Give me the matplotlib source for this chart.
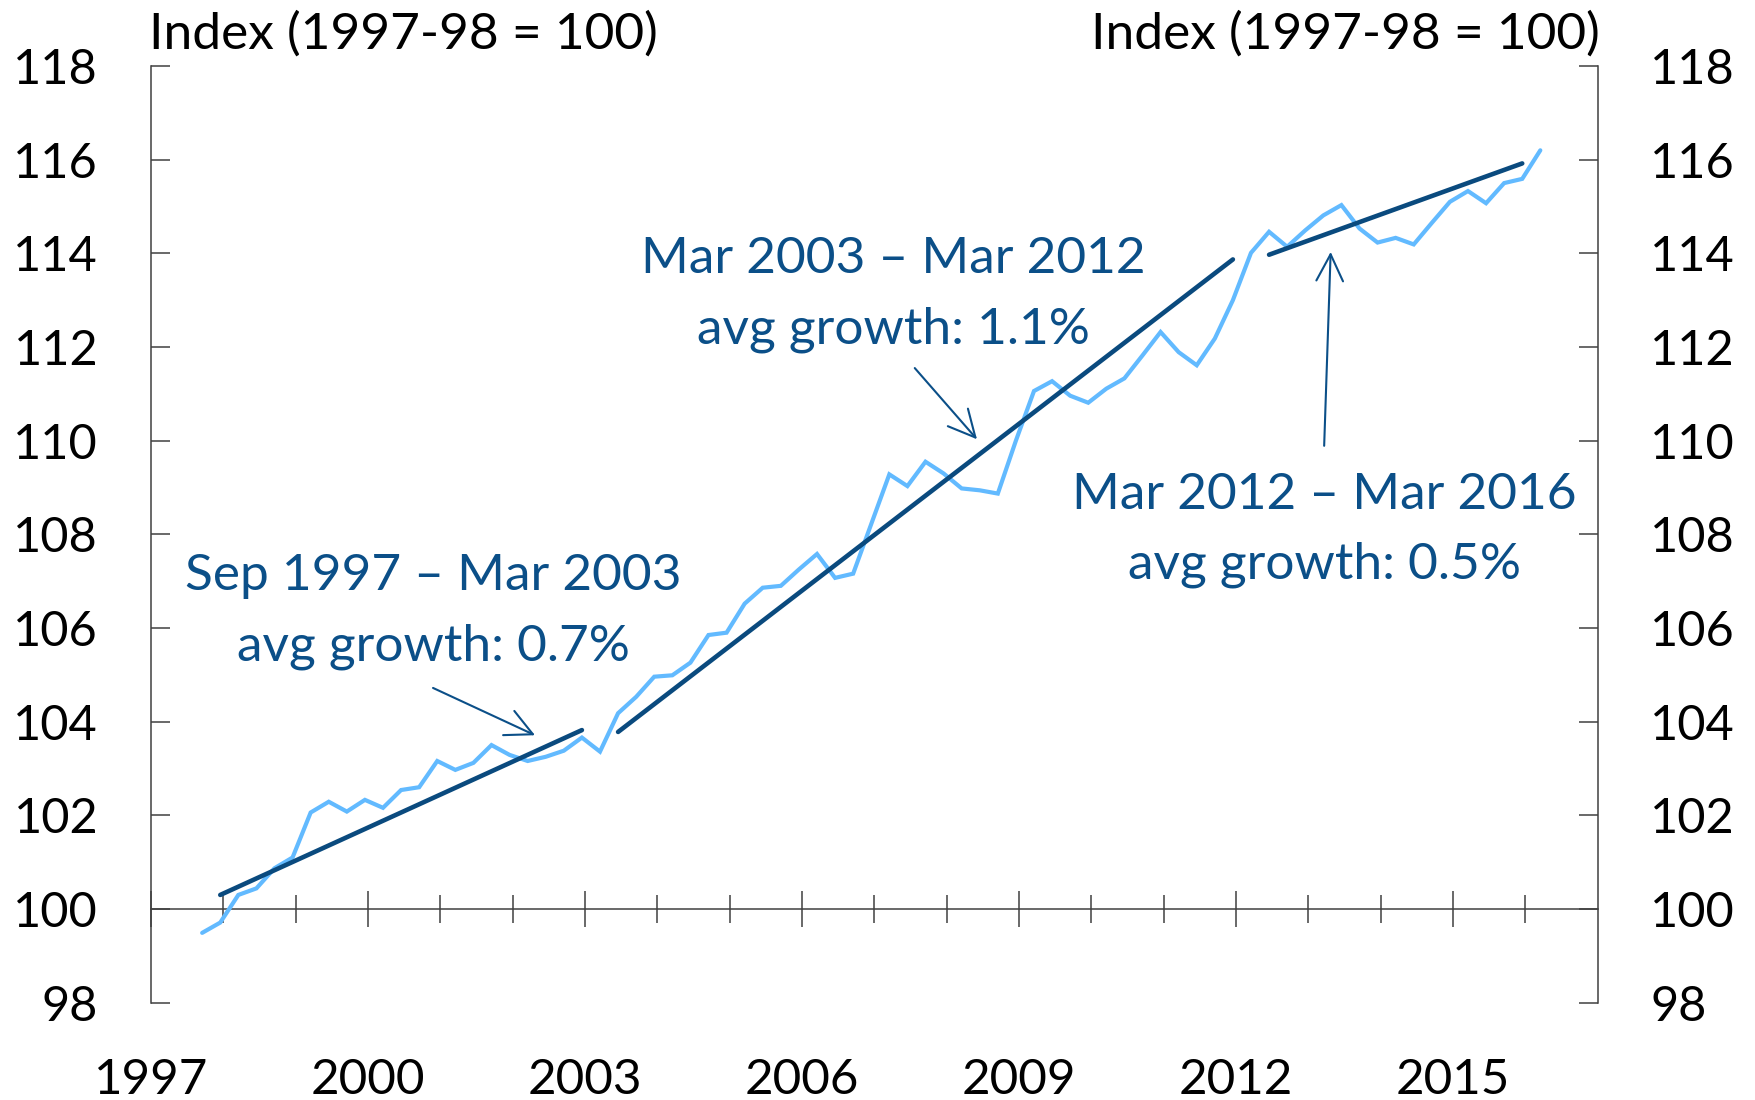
import matplotlib
matplotlib.use("Agg")
import matplotlib.pyplot as plt
from matplotlib.ticker import FixedLocator
import pandas as pd

# quarterly index, Sep 1997 .. Mar 2016
quarters = pd.period_range("1997Q3", "2016Q1", freq="Q")
index_values = [
    99.49, 99.71, 100.30, 100.44, 100.87, 101.10, 102.06, 102.29, 102.08, 102.33,
    102.16, 102.54, 102.60, 103.16, 102.97, 103.12, 103.50, 103.29, 103.16, 103.25,
    103.38, 103.66, 103.36, 104.18, 104.53, 104.96, 104.99, 105.26, 105.85, 105.90,
    106.52, 106.86, 106.90, 107.25, 107.58, 107.07, 107.16, 108.22, 109.28, 109.03,
    109.55, 109.30, 108.98, 108.94, 108.87, 110.00, 111.06, 111.27, 110.96, 110.81,
    111.11, 111.33, 111.82, 112.32, 111.89, 111.61, 112.18, 113.00, 114.01, 114.46,
    114.14, 114.49, 114.81, 115.03, 114.53, 114.23, 114.33, 114.19, 114.65, 115.10,
    115.33, 115.07, 115.50, 115.59, 116.20,
]

# average growth trend segments (start, end)
trend_periods = [("1997Q4", "2002Q4"), ("2003Q2", "2011Q4"), ("2012Q2", "2015Q4")]
trend_values = [(100.30, 103.82), (103.78, 113.87), (113.97, 115.92)]

y_ticks = list(range(98, 120, 2))
year_labels = [1997, 2000, 2003, 2006, 2009, 2012, 2015]
minor_years = [y for y in range(1998, 2017) if y not in year_labels]

LIGHT = "#62BAFF"
DARK = "#0A4A7E"
TEXT = "#0B4F88"
AXIS = "#404040"


def to_year(p):
    """quarter -> decimal year, middle of the quarter's last month"""
    end = pd.Period(p, freq="Q").end_time
    return end.year + (end.month - 0.5) / 12


plt.rcParams["font.family"] = ["Lato", "DejaVu Sans"]

fig = plt.figure(figsize=(17.55, 11), dpi=100)
ax = fig.add_axes([0.0860, 0.0885, 0.8243, 0.8515])

x = [to_year(q) for q in quarters]
ax.plot(x, index_values, color=LIGHT, lw=3.0, solid_capstyle="round", solid_joinstyle="miter", zorder=3)

for (p0, p1), (v0, v1) in zip(trend_periods, trend_values):
    ax.plot([to_year(p0), to_year(p1)], [v0, v1], color=DARK, lw=3.3, solid_capstyle="round", zorder=4)

ax.set_xlim(1997, 2017)
ax.set_ylim(98, 118)

ax.spines["top"].set_visible(False)
ax.spines["bottom"].set_position(("data", 100))
for s in ["left", "right", "bottom"]:
    ax.spines[s].set_color(AXIS)
    ax.spines[s].set_linewidth(1.1)

ax.xaxis.set_major_locator(FixedLocator(year_labels))
ax.xaxis.set_minor_locator(FixedLocator(minor_years))
ax.set_xticklabels([str(y) for y in year_labels])
ax.tick_params(axis="x", which="major", direction="inout", length=26, width=1.1,
               color=AXIS, pad=94, labelsize=35.5)
ax.tick_params(axis="x", which="minor", direction="inout", length=20, width=1.1, color=AXIS)

ax.set_yticks(y_ticks)
ax.tick_params(axis="y", direction="in", length=13.7, width=1.1, color=AXIS,
               left=True, right=True, labelleft=True, labelright=True, pad=38, labelsize=35)

fig.text(149 / 1755, 1 - 34 / 1100, "Index (1997-98 = 100)", fontsize=37, ha="left", va="center")
fig.text(1600 / 1755, 1 - 34 / 1100, "Index (1997-98 = 100)", fontsize=37, ha="right", va="center")

# annotations
notes = [
    (2000.90, 107.10, 105.61, "Sep 1997 \u2013 Mar 2003", "avg growth: 0.7%"),
    (2007.26, 113.87, 112.37, "Mar 2003 \u2013 Mar 2012", "avg growth: 1.1%"),
    (2013.22, 108.85, 107.36, "Mar 2012 \u2013 Mar 2016", "avg growth: 0.5%"),
]
for nx, y1, y2, l1, l2 in notes:
    ax.text(nx, y1, l1, color=TEXT, fontsize=37, ha="center", va="center")
    ax.text(nx, y2, l2, color=TEXT, fontsize=37, ha="center", va="center")

arrows = [
    ((2000.90, 104.72), (2002.31, 103.71)),
    ((2007.56, 111.55), (2008.42, 110.03)),
    ((2013.22, 109.89), (2013.31, 114.03)),
]
for tail, tip in arrows:
    ax.annotate("", xy=tip, xytext=tail,
                arrowprops=dict(arrowstyle="->,head_length=0.6,head_width=0.3",
                                color=TEXT, lw=1.5, mutation_scale=32,
                                shrinkA=0, shrinkB=0))

fig.savefig("out.png", dpi=100)
